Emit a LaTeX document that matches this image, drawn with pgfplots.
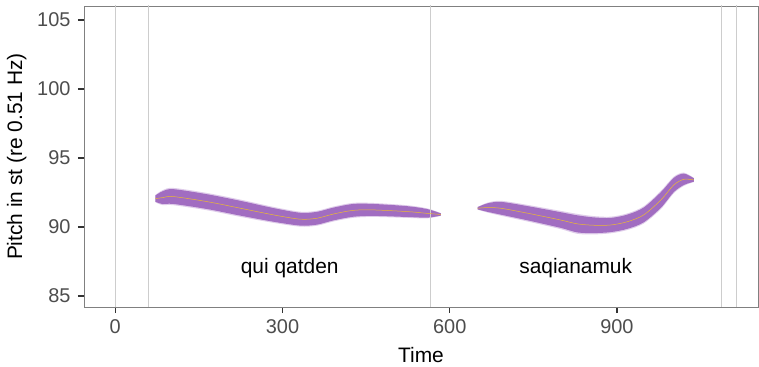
\documentclass[border=0pt]{standalone}
\usepackage{pgfplots}
\pgfplotsset{compat=1.18}
\usepackage{pgfplotstable}
\usepgfplotslibrary{fillbetween}
\usepackage{fontspec}
\setmainfont{Liberation Sans}
\definecolor{band}{RGB}{148,88,184}
\definecolor{pline}{RGB}{235,185,50}
\definecolor{vline}{RGB}{205,205,205}
\definecolor{bord}{RGB}{128,128,128}
\definecolor{tickc}{RGB}{51,51,51}
\definecolor{ticklab}{RGB}{77,77,77}

\pgfplotstableread{
t c w
72 92.05 0.22
85 92.12 0.45
104 92.20 0.52
165 91.83 0.52
225 91.35 0.52
284 90.87 0.48
332 90.56 0.45
362 90.63 0.45
392 90.94 0.45
427 91.20 0.45
463 91.23 0.42
524 91.11 0.38
560 90.98 0.30
584 90.90 0.08
}\segA

\pgfplotstableread{
t c w
650 91.35 0.08
668 91.40 0.30
692 91.35 0.45
740 90.99 0.50
799 90.50 0.55
829 90.22 0.60
859 90.12 0.55
889 90.14 0.50
919 90.38 0.50
948 90.87 0.52
979 91.96 0.55
1002 93.04 0.50
1020 93.45 0.40
1038 93.40 0.12
}\segB

\begin{document}
\begin{tikzpicture}
\path (0,0) rectangle (759bp,367bp);
\begin{axis}[at={(84bp,60bp)}, anchor=south west, scale only axis,
  width=674bp, height=301bp,
  xmin=-56, xmax=1153, ymin=84.2, ymax=106,
  xtick={0,300,600,900}, ytick={85,90,95,100,105},
  axis line style={bord, line width=0.8bp},
  tick style={tickc, line width=1.4bp},
  tick align=outside, major tick length=6bp,
  xtick pos=bottom, ytick pos=left,
  minor tick num=0,
  ticklabel style={font=\fontsize{20}{23}\selectfont, text=ticklab},
  xticklabel style={yshift=-3bp},
  yticklabel style={xshift=-4bp},
  /pgf/number format/assume math mode=true,
  xlabel={Time}, ylabel={Pitch in st (re 0.51 Hz)},
  label style={font=\fontsize{21}{24}\selectfont},
  xlabel style={yshift=-7bp},
  ylabel style={yshift=4bp},
  clip=true]
\addplot[vline, line width=1bp, forget plot] coordinates {(0,84) (0,107)};
\addplot[vline, line width=1bp, forget plot] coordinates {(60,84) (60,107)};
\addplot[vline, line width=1bp, forget plot] coordinates {(566,84) (566,107)};
\addplot[vline, line width=1bp, forget plot] coordinates {(1087,84) (1087,107)};
\addplot[vline, line width=1bp, forget plot] coordinates {(1114,84) (1114,107)};

% segment A
\addplot[name path=AU2, draw=none, smooth] table[x=t, y expr=\thisrow{c}+1.2*\thisrow{w}]{\segA};
\addplot[name path=AL2, draw=none, smooth] table[x=t, y expr=\thisrow{c}-1.2*\thisrow{w}]{\segA};
\addplot[band, fill opacity=0.3, draw=none] fill between[of=AU2 and AL2];
\addplot[name path=AU, draw=none, smooth] table[x=t, y expr=\thisrow{c}+1.03*\thisrow{w}]{\segA};
\addplot[name path=AL, draw=none, smooth] table[x=t, y expr=\thisrow{c}-1.03*\thisrow{w}]{\segA};
\addplot[band, fill opacity=0.82, draw=none] fill between[of=AU and AL];
\addplot[pline, line width=0.5bp, smooth] table[x=t, y=c]{\segA};

% segment B
\addplot[name path=BU2, draw=none, smooth] table[x=t, y expr=\thisrow{c}+1.2*\thisrow{w}]{\segB};
\addplot[name path=BL2, draw=none, smooth] table[x=t, y expr=\thisrow{c}-1.2*\thisrow{w}]{\segB};
\addplot[band, fill opacity=0.3, draw=none] fill between[of=BU2 and BL2];
\addplot[name path=BU, draw=none, smooth] table[x=t, y expr=\thisrow{c}+1.03*\thisrow{w}]{\segB};
\addplot[name path=BL, draw=none, smooth] table[x=t, y expr=\thisrow{c}-1.03*\thisrow{w}]{\segB};
\addplot[band, fill opacity=0.82, draw=none] fill between[of=BU and BL];
\addplot[pline, line width=0.5bp, smooth] table[x=t, y=c]{\segB};

\node[font=\fontsize{21}{24}\selectfont, text=black] at (axis cs:313,87.0) {qui qatden};
\node[font=\fontsize{21}{24}\selectfont, text=black] at (axis cs:826,87.0) {saqianamuk};
\end{axis}
\end{tikzpicture}
\end{document}
